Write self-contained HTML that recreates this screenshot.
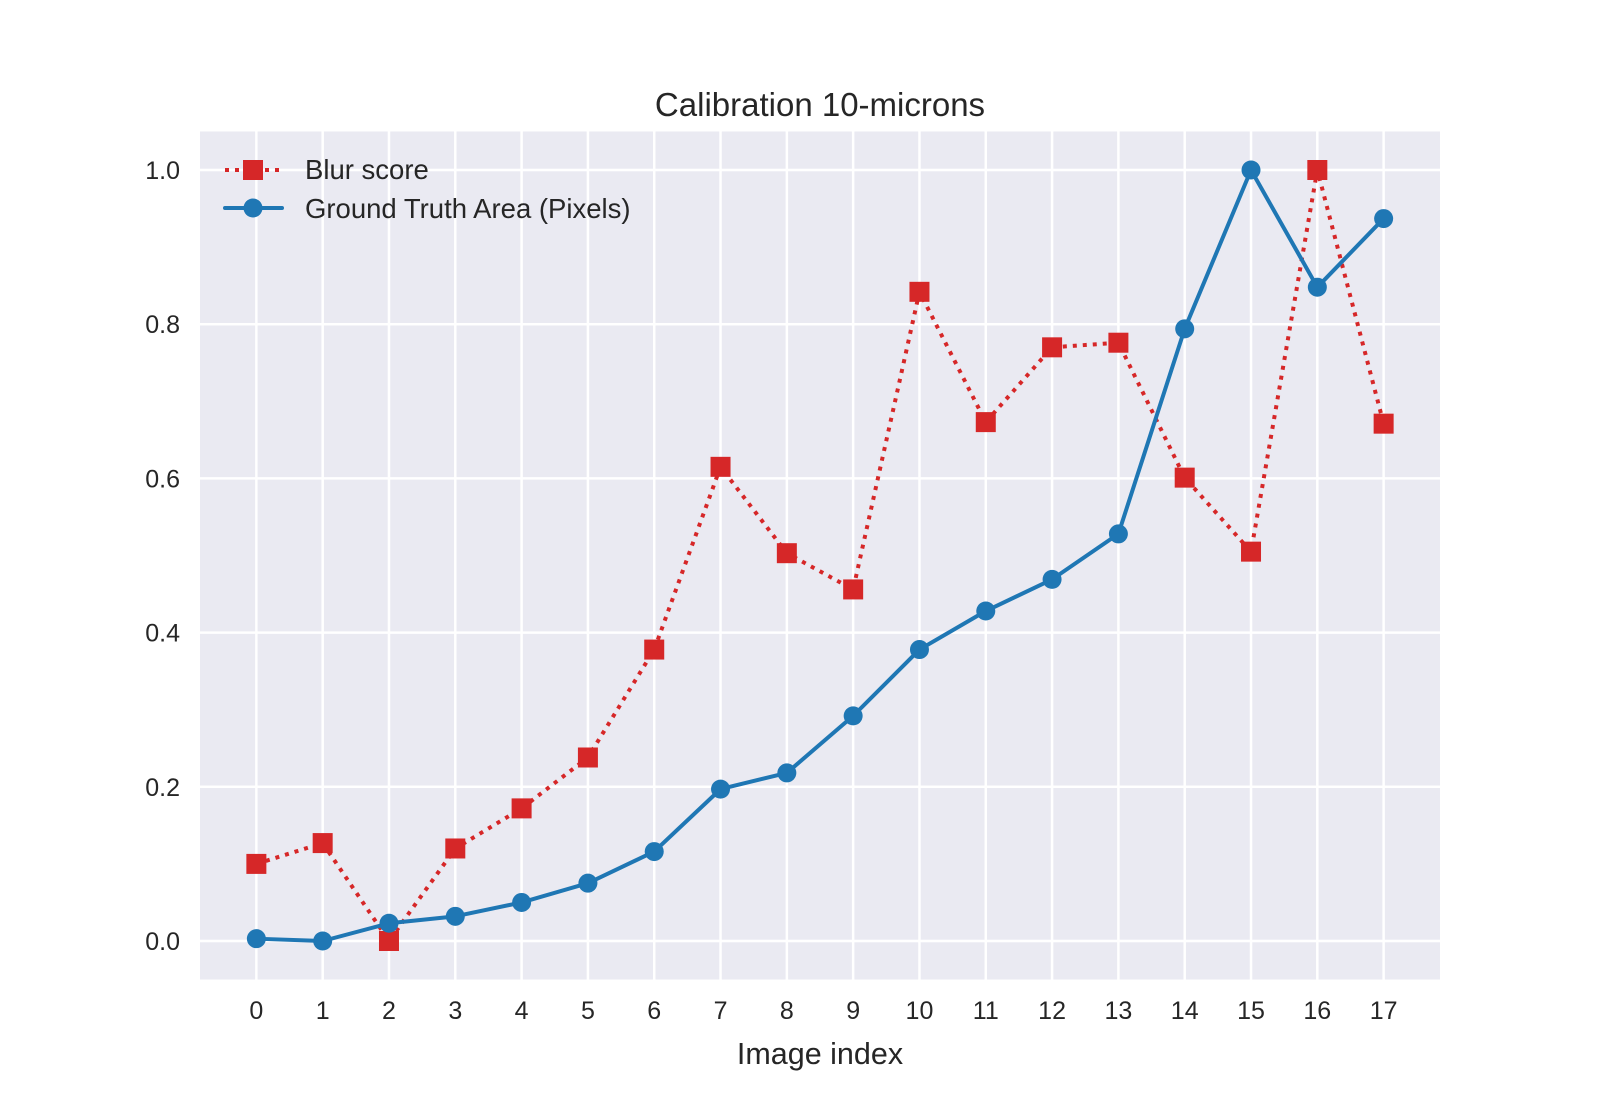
<!DOCTYPE html>
<html><head><meta charset="utf-8"><style>
body{margin:0;background:#fff;}
svg{display:block;font-family:"Liberation Sans","DejaVu Sans",sans-serif;}
</style></head><body>
<svg id="chart" width="1600" height="1100" viewBox="0 0 1600 1100">
<rect x="200" y="131.5" width="1240" height="848" fill="#eaeaf2"/>
<g id="grid"></g>
<g id="series"></g>
<text x="820" y="116" text-anchor="middle" font-size="33" fill="#262626">Calibration 10-microns</text>
<text x="820" y="1064" text-anchor="middle" font-size="30.5" fill="#262626">Image index</text>
<g>
<g>
<line x1="225" y1="170" x2="282" y2="170" stroke="#d62728" stroke-width="4" stroke-dasharray="4,6"/>
<rect x="243" y="160" width="20" height="20" fill="#d62728"/>
<text x="305" y="179" font-size="27.5" fill="#262626">Blur score</text>
</g>
<g>
<line x1="225" y1="208" x2="282" y2="208" stroke="#1f77b4" stroke-width="4" stroke-linecap="round"/>
<circle cx="253" cy="208" r="9.5" fill="#1f77b4"/>
<text x="305" y="218" font-size="27.5" fill="#262626">Ground Truth Area (Pixels)</text>
</g>
</g>
</svg>
<script>
const categories=[0,1,2,3,4,5,6,7,8,9,10,11,12,13,14,15,16,17];
const blurScore=[0.10,0.127,0.0,0.12,0.172,0.238,0.378,0.615,0.503,0.456,0.842,0.673,0.77,0.776,0.601,0.505,1.0,0.671];
const groundTruth=[0.003,0.0,0.023,0.032,0.05,0.075,0.116,0.197,0.218,0.292,0.378,0.428,0.469,0.528,0.794,1.0,0.848,0.937];
const yTicks=[0.0,0.2,0.4,0.6,0.8,1.0];
const yTickLabels=["0.0","0.2","0.4","0.6","0.8","1.0"];

const NS="http://www.w3.org/2000/svg";
const n=categories.length;
const xMin=categories[0]-0.05*(categories[n-1]-categories[0]);
const xMax=categories[n-1]+0.05*(categories[n-1]-categories[0]);
function xs(v){return 200+(v-xMin)/(xMax-xMin)*1240;}
function ys(v){return 941-v*771;}
function mk(tag,attrs,parent){const e=document.createElementNS(NS,tag);for(const k in attrs)e.setAttribute(k,attrs[k]);parent.appendChild(e);return e;}
const grid=document.getElementById('grid');
const svg=document.getElementById('chart');
yTicks.forEach((t,i)=>{
  const l=mk('line',{x1:200,x2:1440,y1:ys(t),y2:ys(t),stroke:'#fff','stroke-width':2.5},grid);
  
  
  const tx=mk('text',{x:180,y:ys(t)+9,'text-anchor':'end','font-size':25,fill:'#262626'},svg);
  tx.textContent=yTickLabels[i];
  
  
});
categories.forEach(c=>{
  const l=mk('line',{x1:xs(c),x2:xs(c),y1:131.5,y2:979.5,stroke:'#fff','stroke-width':2.5},grid);
  
  
  const tx=mk('text',{x:xs(c),y:1019,'text-anchor':'middle','font-size':25,fill:'#262626'},svg);
  tx.textContent=String(c);
  
  
});
const ser=document.getElementById('series');
const bp=mk('polyline',{points:categories.map((c,i)=>xs(c)+','+ys(blurScore[i])).join(' '),fill:'none',stroke:'#d62728','stroke-width':4,'stroke-dasharray':'4,6'},ser);


categories.forEach((c,i)=>{
  const r=mk('rect',{x:xs(c)-10,y:ys(blurScore[i])-10,width:20,height:20,fill:'#d62728'},ser);
  
  
});
const gp=mk('polyline',{points:categories.map((c,i)=>xs(c)+','+ys(groundTruth[i])).join(' '),fill:'none',stroke:'#1f77b4','stroke-width':4,'stroke-linejoin':'round'},ser);


categories.forEach((c,i)=>{
  const p=mk('circle',{cx:xs(c),cy:ys(groundTruth[i]),r:9.5,fill:'#1f77b4'},ser);
  
  
});
</script>
</body></html>
